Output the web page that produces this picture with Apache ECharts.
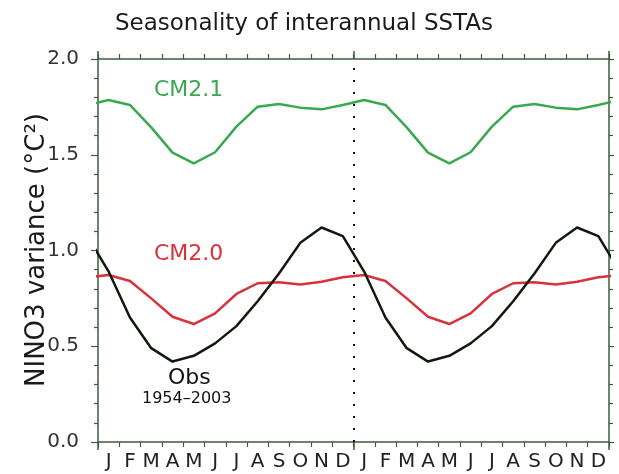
<!DOCTYPE html>
<html>
<head>
<meta charset="utf-8">
<script src="https://cdn.jsdelivr.net/npm/echarts@6/dist/echarts.min.js"></script>
<style>html,body{margin:0;padding:0;background:#fff}#c{width:619px;height:474px}</style>
</head>
<body>
<div id="c"></div>
<script>
// Month labels (two seasonal cycles shown)
const months = ['J','F','M','A','M','J','J','A','S','O','N','D'];
// Seasonal NINO3 variance (°C²), Jan..Dec
const obs  = [0.89, 0.65, 0.49, 0.42, 0.45, 0.515, 0.605, 0.735, 0.88, 1.04, 1.12, 1.075];
const cm20 = [0.872, 0.841, 0.75, 0.654, 0.616, 0.672, 0.773, 0.829, 0.834, 0.823, 0.837, 0.860];
const cm21 = [1.786, 1.76, 1.643, 1.511, 1.455, 1.513, 1.647, 1.751, 1.765, 1.746, 1.737, 1.760];
const yTicks = [0, 0.5, 1.0, 1.5, 2.0];

const FONT = 'DejaVu Sans';
const AX = '#3d5c3d';
const cats = months.concat(months);

// Two repeated cycles at month centres, plus the wrap-around neighbours (clipped at the frame)
function cycle(vals) {
  const pts = [[-0.5, vals[11]]];
  for (let y = 0; y < 2; y++) for (let m = 0; m < 12; m++) pts.push([y * 12 + m + 0.5, vals[m]]);
  pts.push([24.5, vals[0]]);
  return pts;
}

const chart = echarts.init(document.getElementById('c'), null, {renderer: 'canvas'});
const baseVal = {type: 'value', min: 0, max: 24, interval: 12, splitLine: {show: false},
  axisLabel: {show: false}};
chart.setOption({
  animation: false,
  title: {text: 'Seasonality of interannual SSTAs', left: 299, textAlign: 'center', top: 8,
    textStyle: {fontFamily: FONT, fontSize: 23, fontWeight: 'normal', color: '#1a1a1a'}},
  grid: {left: 98, right: 10, top: 59, bottom: 32},
  xAxis: [
    {type: 'category', data: cats, position: 'bottom', boundaryGap: true,
      axisLine: {onZero: false, lineStyle: {color: AX, width: 1.5}},
      axisTick: {show: true, inside: false, length: 5, lineStyle: {color: AX, width: 1.2}},
      axisLabel: {interval: 0, margin: 10, fontFamily: FONT, fontSize: 20, color: '#222'},
      splitLine: {show: false}},
    Object.assign({}, baseVal, {position: 'bottom',
      axisLine: {show: false, onZero: false},
      axisTick: {show: true, inside: false, length: 8, lineStyle: {color: AX, width: 1.5}}}),
    {type: 'category', data: cats, position: 'top', boundaryGap: true,
      axisLine: {onZero: false, lineStyle: {color: AX, width: 1.5}},
      axisTick: {show: true, inside: false, length: 5, lineStyle: {color: AX, width: 1.2}},
      axisLabel: {show: false}, splitLine: {show: false}},
    Object.assign({}, baseVal, {position: 'top',
      axisLine: {show: false, onZero: false},
      axisTick: {show: true, inside: false, length: 8, lineStyle: {color: AX, width: 1.5}}})
  ],
  yAxis: [
    {type: 'value', min: yTicks[0], max: yTicks[yTicks.length - 1], interval: 0.5, position: 'left',
      axisLine: {show: true, onZero: false, lineStyle: {color: AX, width: 1.5}},
      axisTick: {show: true, inside: false, length: 7, lineStyle: {color: AX, width: 1.2}},
      minorTick: {show: true, splitNumber: 5, length: 4, lineStyle: {color: AX, width: 1.2}},
      axisLabel: {margin: 19, fontFamily: FONT, fontSize: 20, color: '#333',
        formatter: v => v.toFixed(1)},
      splitLine: {show: false}},
    {type: 'value', min: yTicks[0], max: yTicks[yTicks.length - 1], interval: 0.5, position: 'right',
      axisLine: {show: true, onZero: false, lineStyle: {color: AX, width: 1.5}},
      axisTick: {show: true, inside: false, length: 5, lineStyle: {color: AX, width: 1.2}},
      minorTick: {show: true, splitNumber: 5, length: 4, lineStyle: {color: AX, width: 1.2}},
      axisLabel: {show: false}, splitLine: {show: false}}
  ],
  series: [
    {type: 'line', xAxisIndex: 1, yAxisIndex: 0, data: cycle(cm21), showSymbol: false, clip: true,
      lineStyle: {color: '#3aa84e', width: 2.5},
      markLine: {silent: true, symbol: 'none', label: {show: false},
        lineStyle: {color: '#111', type: [2, 10], width: 2}, data: [{xAxis: 12}]}},
    {type: 'line', xAxisIndex: 1, yAxisIndex: 0, data: cycle(cm20), showSymbol: false, clip: true,
      lineStyle: {color: '#d9323c', width: 2.5}},
    {type: 'line', xAxisIndex: 1, yAxisIndex: 0, data: cycle(obs), showSymbol: false, clip: true,
      lineStyle: {color: '#0f1a0f', width: 2.5}}
  ],
  graphic: [
    {type: 'text', x: 37, y: 250, rotation: Math.PI / 2,
      style: {text: 'NINO3 variance (°C²)', fontFamily: FONT, fontSize: 26, fill: '#1a1a1a',
        align: 'center', verticalAlign: 'middle'}},
    {type: 'text', left: 154, top: 79, style: {text: 'CM2.1', fontFamily: FONT, fontSize: 22, fill: '#3aa84e'}},
    {type: 'text', left: 154, top: 243, style: {text: 'CM2.0', fontFamily: FONT, fontSize: 22, fill: '#d9323c'}},
    {type: 'text', left: 168, top: 367, style: {text: 'Obs', fontFamily: FONT, fontSize: 22, fill: '#111'}},
    {type: 'text', left: 142, top: 391, style: {text: '1954–2003', fontFamily: FONT, fontSize: 16, fill: '#111'}}
  ]
});
</script>
</body>
</html>
